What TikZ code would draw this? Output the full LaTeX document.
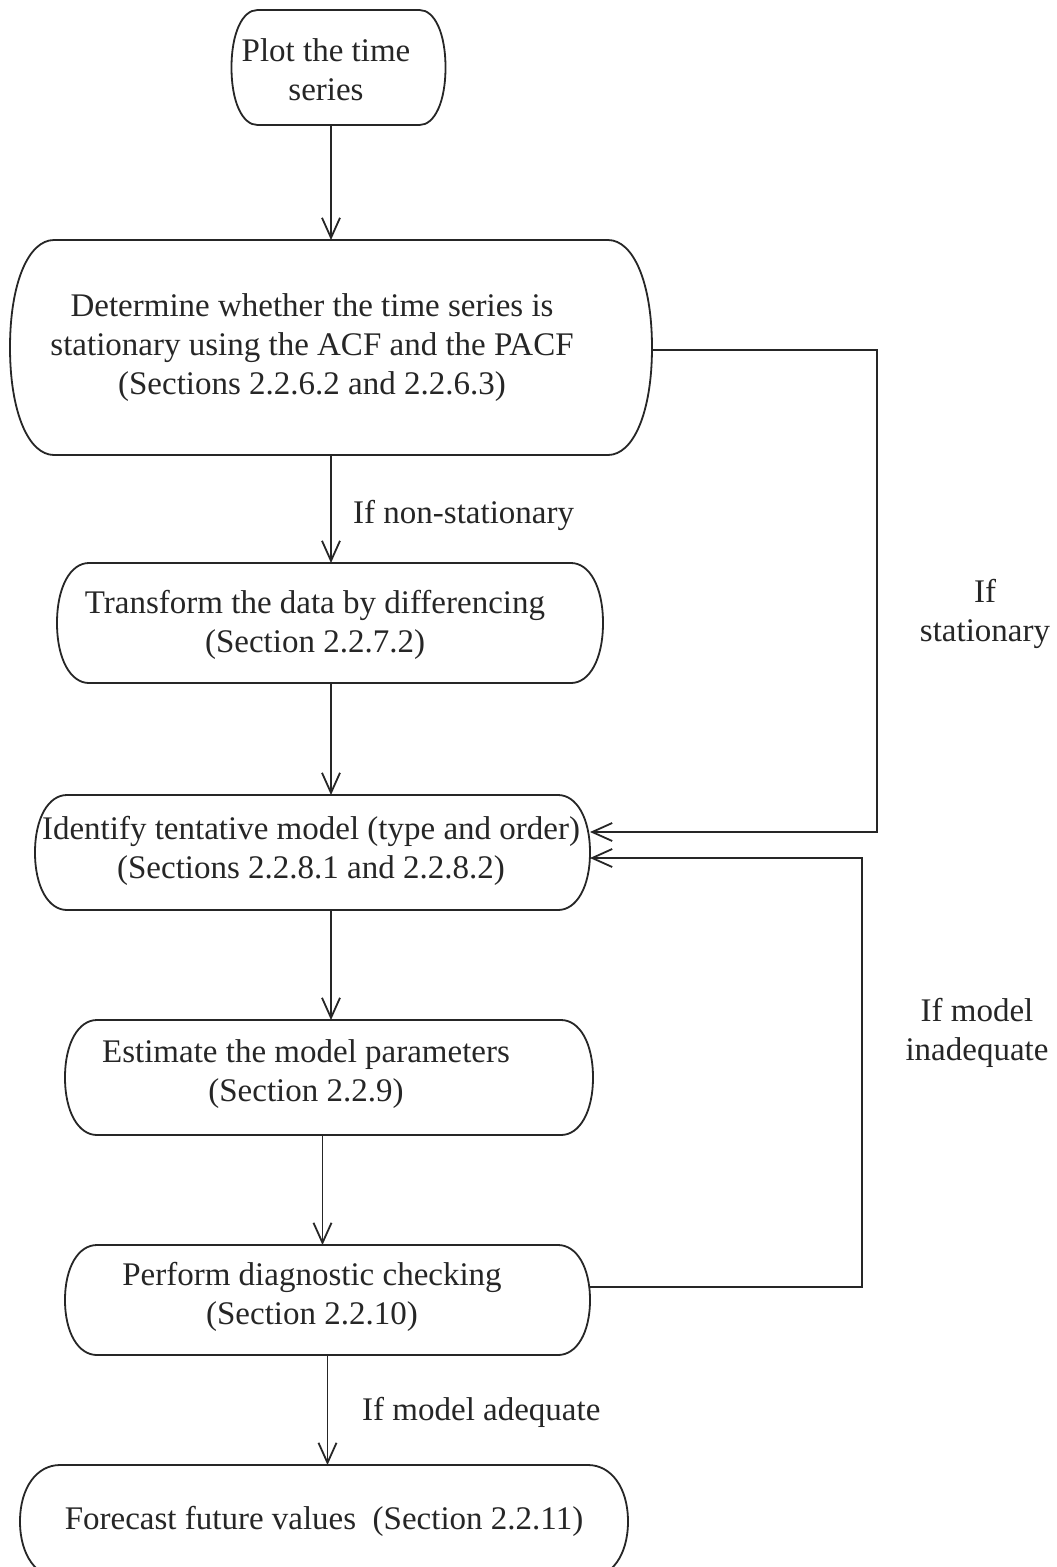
\documentclass[tikz,border=0pt]{standalone}
\usepackage{fontspec}
\setmainfont{Liberation Serif}
\usetikzlibrary{arrows.meta,calc}
\newcommand{\drawcapsule}[2]{%
  \draw[boxline]
    ($(#1.north west)+(#2,0)$) -- ($(#1.north east)+(-#2,0)$)
    .. controls ($(#1.north east)+(-0.42*#2,0)$) and ($(#1.north east)!0.2!(#1.south east)$) .. (#1.east)
    .. controls ($(#1.south east)!0.2!(#1.north east)$) and ($(#1.south east)+(-0.42*#2,0)$) .. ($(#1.south east)+(-#2,0)$)
    -- ($(#1.south west)+(#2,0)$)
    .. controls ($(#1.south west)+(0.42*#2,0)$) and ($(#1.south west)!0.2!(#1.north west)$) .. (#1.west)
    .. controls ($(#1.north west)!0.2!(#1.south west)$) and ($(#1.north west)+(0.42*#2,0)$) .. cycle;
}
\tikzset{
  frame/.style={draw=none, inner sep=0pt, outer sep=0pt},
  boxline/.style={draw=black!85, line width=1.8pt},
  txt/.style={font=\fontsize{33}{39}\selectfont, text=black!85, align=center, inner sep=0pt},
  arr/.style={draw=black!85, line width=1.8pt, -{Straight Barb[length=20pt,width=18pt,line width=1.8pt]}},
  plain/.style={draw=black!85, line width=1.8pt}
}
\begin{document}
\begin{tikzpicture}[x=1pt,y=-1pt]
\useasboundingbox (0,0) rectangle (1057,1567);
\clip (0,0) rectangle (1057,1567);
\fill[white] (0,0) rectangle (1057,1567);

% box frames
\node[frame, minimum width=214pt, minimum height=115pt] (b1) at (338.5,67.5) {};
\node[frame, minimum width=642pt, minimum height=215pt] (b2) at (331,347.5) {};
\node[frame, minimum width=546pt, minimum height=120pt] (b3) at (330,623) {};
\node[frame, minimum width=555pt, minimum height=115pt] (b4) at (312.5,852.5) {};
\node[frame, minimum width=528pt, minimum height=115pt] (b5) at (329,1077.5) {};
\node[frame, minimum width=525pt, minimum height=110pt] (b6) at (327.5,1300) {};
\node[frame, minimum width=608pt, minimum height=113pt] (b7) at (324,1521.5) {};

\drawcapsule{b1}{26}
\drawcapsule{b2}{44}
\drawcapsule{b3}{32}
\drawcapsule{b4}{32}
\drawcapsule{b5}{32}
\drawcapsule{b6}{32}
\drawcapsule{b7}{40}

% texts
\node[txt] (t1) at (326,70) {Plot the time\\series};
\node[txt] (t2) at (312,348) {Determine whether the time series is\\stationary using the ACF and the PACF\\(Sections 2.2.6.2 and 2.2.6.3)};
\node[txt] (t3) at (315,625) {Transform the data by differencing\\(Section 2.2.7.2)};
\node[txt] (t4) at (311,851) {Identify tentative model (type and order)\\(Sections 2.2.8.1 and 2.2.8.2)};
\node[txt] (t5) at (306,1074) {Estimate the model parameters\\(Section 2.2.9)};
\node[txt] (t6) at (312,1297) {Perform diagnostic checking\\(Section 2.2.10)};
\node[txt] (t7) at (324,1521) {Forecast future values\ \ (Section 2.2.11)};

% labels
\node[txt, anchor=west] (l1) at (353,515) {If non-stationary};
\node[txt, anchor=west] (l2) at (362,1412) {If model adequate};
\node[txt] (l3) at (985,614) {If\\stationary};
\node[txt] (l4) at (977,1033) {If model\\inadequate};

% main arrows
\draw[arr] (b2.north |- b1.south) -- (b2.north);
\draw[arr] (b2.south) -- (b2.south |- b3.north);
\draw[arr] (b2.south |- b3.south) -- (b2.south |- b4.north);
\draw[arr] (b2.south |- b4.south) -- (b2.south |- b5.north);
\draw[arr] ([xshift=-5pt]b6.north |- b5.south) -- ([xshift=-5pt]b6.north);
\draw[arr] (b6.south) -- (b6.south |- b7.north);

% feedback arrows
\coordinate (r1) at (877,350);
\coordinate (r2) at (862,1287);
\coordinate (in1) at ([yshift=20.5pt]b4.east);
\coordinate (in2) at ([yshift=-5.5pt]b4.east);
\coordinate (out2) at ([yshift=13pt]b6.east);
\draw[arr] (b2.east |- r1) -- (r1) -- (r1 |- in1) -- (in1);
\draw[arr] (out2) -- (r2) -- (r2 |- in2) -- (in2);
\end{tikzpicture}
\end{document}
